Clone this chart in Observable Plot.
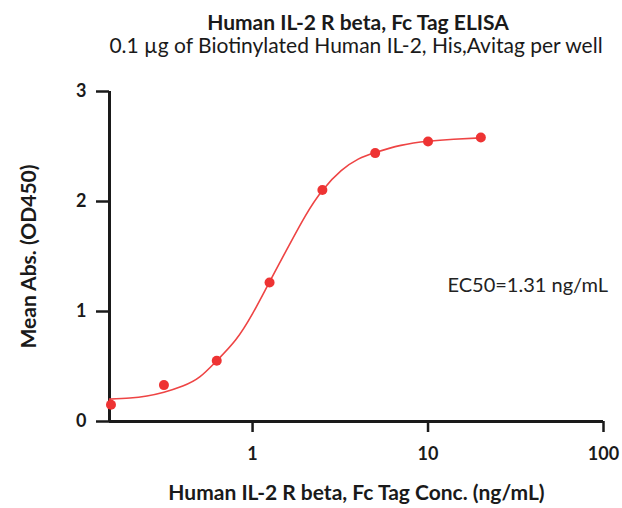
<!DOCTYPE html>
<html>
<head>
<meta charset="utf-8">
<script src="https://cdn.jsdelivr.net/npm/d3@7"></script>
<script src="https://cdn.jsdelivr.net/npm/@observablehq/plot@0.6"></script>
<style>
  html, body { margin: 0; padding: 0; background: #fff; }
  #wrap { width: 622px; height: 508px; position: relative; font-family: Lato, "Open Sans", sans-serif; color: #1a1a1a; }
  #title { position: absolute; left: 0; width: 716px; top: 9px; line-height: 26px; text-align: center; font-weight: bold; font-size: 21px; white-space: nowrap; }
  #subtitle { position: absolute; left: 0; width: 712px; top: 32px; line-height: 26px; text-align: center; font-size: 21px; white-space: nowrap; }
  #chart { position: absolute; left: 0; top: 60px; }
</style>
</head>
<body>
<div id="wrap">
  <div id="title">Human IL-2 R beta, Fc Tag ELISA</div>
  <div id="subtitle">0.1 µg of Biotinylated Human IL-2, His,Avitag per well</div>
  <div id="chart"></div>
</div>
<script>
// Measured points (concentration ng/mL, OD450)
const conc = [0.156, 0.3125, 0.625, 1.25, 2.5, 5, 10, 20];
const od   = [0.152, 0.331, 0.552, 1.264, 2.104, 2.44, 2.545, 2.582];

// Fitted curve
const curveConc = [0.153, 0.2, 0.25, 0.3125, 0.4, 0.5, 0.625, 0.8, 1.0, 1.25, 1.6, 2.0, 2.5, 3.2, 4.0, 5.0, 7.0, 10, 14, 20];
const curveOD   = [0.203, 0.213, 0.232, 0.266, 0.322, 0.405, 0.552, 0.74, 0.98, 1.27, 1.59, 1.87, 2.10, 2.28, 2.385, 2.445, 2.51, 2.548, 2.566, 2.578];

const xTicks = [1, 10, 100];
const yTicks = [0, 1, 2, 3];
const xDomain = [0.153, 100];
const yDomain = [0, 3];
const ec50Label = [{x: 12.9, y: 1.234, text: "EC50=1.31 ng/mL"}];

const points = conc.map((c, i) => ({x: c, y: od[i]}));
const curve = curveConc.map((c, i) => ({x: c, y: curveOD[i]}));

const red = "#ee4444";
const ink = "#1a1a1a";

const chart = Plot.plot({
  width: 622,
  height: 448,
  marginLeft: 109,
  marginRight: 19,
  marginTop: 31,
  marginBottom: 87,
  style: {fontFamily: "Lato, 'Open Sans', sans-serif", fontWeight: "bold", color: ink, background: "#fff"},
  x: {type: "log", domain: xDomain},
  y: {domain: yDomain},
  marks: [
    Plot.axisY({ticks: yTicks, tickSize: 13, tickPadding: 10, strokeWidth: 2.5, fontSize: 18, fontWeight: "bold", tickFormat: d => String(d), label: null}),
    Plot.axisX({ticks: xTicks, tickSize: 11, tickPadding: 15, strokeWidth: 2.5, fontSize: 18, fontWeight: "bold", tickFormat: d => String(d), label: null}),
    Plot.ruleY([yDomain[0]], {stroke: ink, strokeWidth: 3}),
    Plot.ruleX([xDomain[0]], {y1: yDomain[0], y2: yDomain[1], stroke: ink, strokeWidth: 3}),
    Plot.line(curve, {x: "x", y: "y", curve: "natural", stroke: red, strokeWidth: 1.6}),
    Plot.dot(points, {x: "x", y: "y", r: 5, fill: "#ee3333", stroke: "none"}),
    Plot.text(ec50Label, {x: "x", y: "y", text: "text", textAnchor: "start", fontSize: 20, fontWeight: "normal", fill: "#222"}),
    Plot.text(["Mean Abs. (OD450)"], {frameAnchor: "left", textAnchor: "middle", lineAnchor: "middle", rotate: -90, dx: -80, fontSize: 21, fontWeight: "bold", fill: ink}),
    Plot.text(["Human IL-2 R beta, Fc Tag Conc. (ng/mL)"], {frameAnchor: "bottom", textAnchor: "middle", lineAnchor: "middle", dy: 72, fontSize: 21, fontWeight: "bold", fill: ink})
  ]
});
document.getElementById("chart").appendChild(chart);
</script>
</body>
</html>
